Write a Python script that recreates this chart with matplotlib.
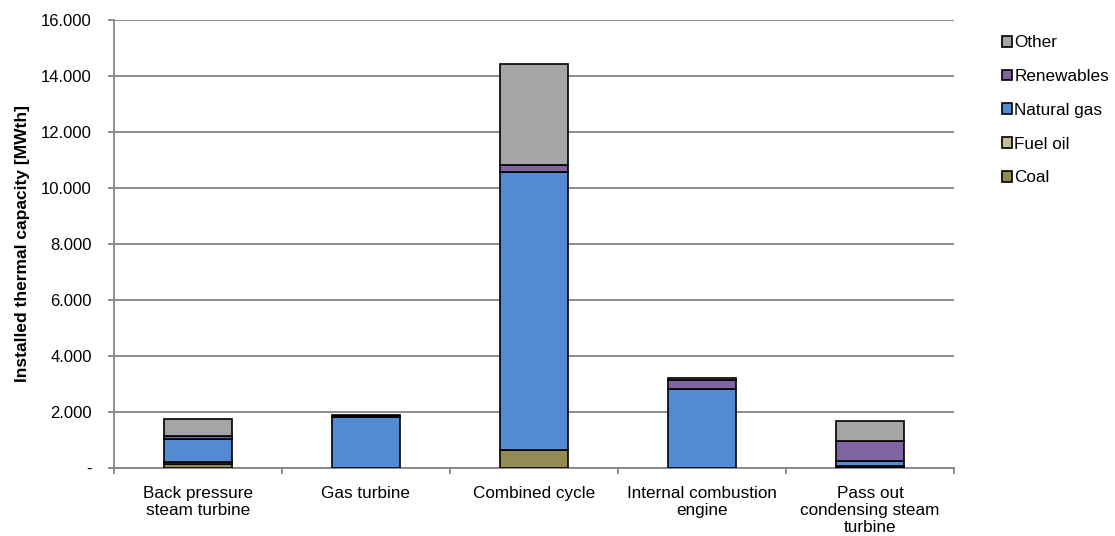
import matplotlib.pyplot as plt
import numpy as np
from matplotlib.patches import Patch
from matplotlib.ticker import FuncFormatter

plt.rcParams['font.family'] = ['Liberation Sans', 'DejaVu Sans']

categories = ["Back pressure\nsteam turbine", "Gas turbine", "Combined cycle",
              "Internal combustion\nengine", "Pass out\ncondensing steam\nturbine"]
coal = [150, 0, 650, 0, 50]
fuel_oil = [70, 0, 10, 0, 20]
natural_gas = [800, 1820, 9900, 2820, 170]
renewables = [120, 30, 270, 320, 720]
other = [620, 60, 3610, 90, 730]

series = [("Coal", coal, "#948A54"),
          ("Fuel oil", fuel_oil, "#C4BD97"),
          ("Natural gas", natural_gas, "#528BD2"),
          ("Renewables", renewables, "#8064A2"),
          ("Other", other, "#A5A5A5")]

fig = plt.figure(figsize=(11.15, 5.36), dpi=100)
ax = fig.add_axes([0.1022, 0.1269, 0.7534, 0.8358])

x = np.arange(len(categories))
bottom = np.zeros(len(categories))
for name, vals, col in series:
    ax.bar(x, vals, 0.4, bottom=bottom, color=col, edgecolor="black", linewidth=1.2, zorder=3)
    bottom += np.array(vals)

ax.set_xlim(-0.5, 4.5)
ax.set_ylim(0, 16000)
ax.set_yticks(range(0, 16001, 2000))
ax.yaxis.set_major_formatter(FuncFormatter(lambda v, p: "-" if v == 0 else f"{int(v):,}".replace(",", ".")))
ax.grid(axis="y", color="#868686", linewidth=1.3, zorder=0)

ax.set_xticks(x)
ax.set_xticklabels(categories, fontsize=12.3, linespacing=1.15)
ax.set_xticks(np.arange(-0.5, 5, 1), minor=True)
ax.tick_params(axis="x", which="major", length=0, pad=13)
ax.tick_params(axis="x", which="minor", length=4, color="#868686", width=1.3)
ax.tick_params(axis="y", length=4, color="#868686", width=1.3, labelsize=12, pad=12)

for s in ["top", "right"]:
    ax.spines[s].set_visible(False)
for s in ["left", "bottom"]:
    ax.spines[s].set_color("#868686")
    ax.spines[s].set_linewidth(1.3)

ax.set_ylabel("Installed thermal capacity [MWth]", fontsize=12.5, fontweight="bold")
ax.yaxis.set_label_coords(-0.100, 0.5)

handles = [Patch(facecolor=col, edgecolor="black", linewidth=1.2, label=name) for name, vals, col in series[::-1]]
fig.legend(handles=handles, loc="upper left", bbox_to_anchor=(0.885, 0.963), frameon=False,
           fontsize=12.3, handlelength=0.6, handleheight=0.6, handletextpad=0.12, labelspacing=1.1)

fig.savefig("out.png", dpi=100)
